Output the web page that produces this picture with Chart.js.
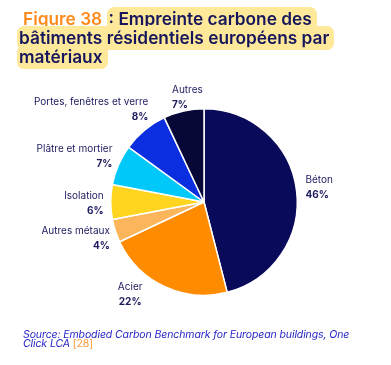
<!DOCTYPE html>
<html>
<head>
<meta charset="utf-8">
<script src="https://cdn.jsdelivr.net/npm/chart.js@4"></script>
<style>
  html, body { margin: 0; padding: 0; background: #fff; }
  #wrap { position: relative; width: 391px; height: 365px; overflow: hidden; }
  #chart { position: absolute; left: 0; top: 0; }
  #title { position: absolute; left: 17px; top: 9px; width: 345px;
    font-family: Inter, "Open Sans", sans-serif; font-weight: 600; font-size: 17.3px; line-height: 19px;
    color: #16165c; letter-spacing: 0px; }
  #title .fig { color: #ff8a1c; padding-left: 6px; }
  #title .hl { background: #fee99a; border-radius: 7px; padding: 1px 5px 2px 2px;
    -webkit-box-decoration-break: clone; box-decoration-break: clone; }
  #source { position: absolute; left: 23px; top: 330px; width: 345px;
    font-family: Inter, "Open Sans", sans-serif; font-style: italic; font-size: 10.5px; line-height: 9px;
    color: #2626c8; letter-spacing: -0.1px; }
  #source .ref { color: #ff9a3a; font-style: normal; }
</style>
</head>
<body>
<div id="wrap">
  <canvas id="chart" width="391" height="365"></canvas>
  <div id="title"><span class="fig">Figure 38 </span><span class="hl">: Empreinte carbone des bâtiments résidentiels européens par matériaux</span></div>
  <div id="source">Source: Embodied Carbon Benchmark for European buildings, One Click LCA <span class="ref">[28]</span></div>
</div>
<script>
// ---- data ----
const categories = ["Béton", "Acier", "Autres métaux", "Isolation", "Plâtre et mortier", "Portes, fenêtres et verre", "Autres"];
const shares = [46, 22, 4, 6, 7, 8, 7];
const pctLabels = ["46%", "22%", "4%", "6%", "7%", "8%", "7%"];

// ---- styles / label layout (not data) ----
const colors = ["#0a0a5a", "#ff8c00", "#fbb55a", "#ffd520", "#00c8f8", "#0a2ee0", "#070738"];
const labelAlign = ["left", "center", "right", "right", "right", "right", "left"];
const labelNudge = [[-3, -1], [-29, -3], [6, 4], [5, 1.5], [5, -4], [11.5, -11], [-9, -1.5]];
const labelGap = 12;

const outsideLabels = {
  id: "outsideLabels",
  afterDatasetsDraw(chart) {
    const ctx = chart.ctx;
    const meta = chart.getDatasetMeta(0);
    meta.data.forEach((arc, i) => {
      const p = arc.getProps(["x", "y", "startAngle", "endAngle", "outerRadius"], true);
      const mid = (p.startAngle + p.endAngle) / 2;
      const r = p.outerRadius + labelGap;
      const ax = p.x + Math.cos(mid) * r + labelNudge[i][0];
      const ay = p.y + Math.sin(mid) * r + labelNudge[i][1];
      ctx.save();
      ctx.textAlign = labelAlign[i];
      ctx.textBaseline = "middle";
      ctx.fillStyle = "#1b1b5e";
      ctx.font = "400 10px Inter, 'Open Sans', sans-serif";
      ctx.fillText(categories[i], ax, ay - 7.5);
      ctx.font = "700 10px Inter, 'Open Sans', sans-serif";
      ctx.fillText(pctLabels[i], ax, ay + 7.5);
      ctx.restore();
    });
  }
};

new Chart(document.getElementById("chart"), {
  type: "pie",
  data: {
    labels: categories,
    datasets: [{
      data: shares,
      backgroundColor: colors,
      borderColor: "#ffffff",
      borderWidth: 1.5
    }]
  },
  options: {
    responsive: false,
    animation: false,
    layout: { padding: { left: 110, right: 93, top: 108, bottom: 69 } },
    plugins: { legend: { display: false }, tooltip: { enabled: false } }
  },
  plugins: [outsideLabels]
});
</script>
</body>
</html>
